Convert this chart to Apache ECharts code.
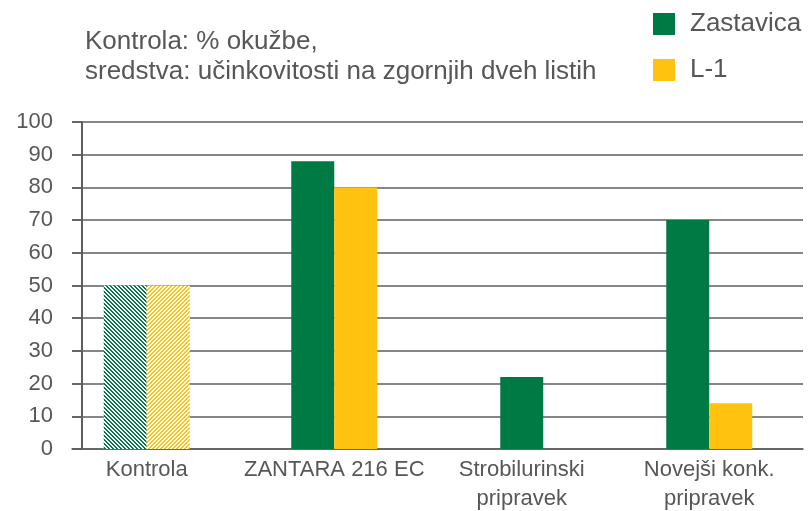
<!DOCTYPE html>
<html>
<head>
<meta charset="utf-8">
<script src="https://cdn.jsdelivr.net/npm/echarts@6/dist/echarts.min.js"></script>
<style>
  html, body { margin: 0; padding: 0; background: #fff; }
  #myCharts { width: 808px; height: 511px; }
</style>
</head>
<body>
<div id="myCharts"></div>
<script>
let categories = ["Kontrola", "ZANTARA 216 EC", "Strobilurinski\npripravek", "Novejši konk.\npripravek"];
let zastavica = [50, 88, 22, 70];
let l1 = [50, 80, null, 14];
let yTicks = [0, 10, 20, 30, 40, 50, 60, 70, 80, 90, 100];
let controlIndex = 0; // kontrola: % okužbe, drawn hatched

const GREEN = "#007a45";
const YELLOW = "#ffc20e";
const TEXT = "#575757";
const LINE = "#5e5e5e";
const FONT = "Liberation Sans";

// diagonal stripe tile, dir 1 = "\" , dir -1 = "/"
function stripes(color, dir) {
  const p = 4;
  const c = document.createElement("canvas");
  c.width = p;
  c.height = p;
  const ctx = c.getContext("2d");
  ctx.fillStyle = "#fff";
  ctx.fillRect(0, 0, p, p);
  ctx.fillStyle = color;
  for (let x = 0; x < p; x++) {
    for (let y = 0; y < p; y++) {
      let k = dir > 0 ? x - y : x + y;
      if (((k % p) + p) % p < 2) ctx.fillRect(x, y, 1, 1);
    }
  }
  return { image: c, repeat: "repeat" };
}

// bars where both varieties have a value sit in pairs, a lone bar is centred
function paired(values, color, dir) {
  return values.map((v, i) => {
    if (l1[i] == null) return "-";
    if (i === controlIndex) return { value: v, itemStyle: { color: stripes(color, dir) } };
    return v;
  });
}
let lone = zastavica.map((v, i) => (l1[i] == null ? v : "-"));

let option = {
  animation: false,
  textStyle: { fontFamily: FONT },
  title: {
    text: "Kontrola: % okužbe,\nsredstva: učinkovitosti na zgornjih dveh listih",
    left: 80,
    top: 22,
    textStyle: { fontSize: 26, lineHeight: 30, fontWeight: "normal", color: TEXT, fontFamily: FONT },
  },
  legend: {
    orient: "vertical",
    left: 653,
    top: 11,
    padding: 0,
    itemWidth: 22,
    itemHeight: 22,
    itemGap: 20,
    icon: "rect",
    data: ["Zastavica", "L-1"],
    textStyle: { fontSize: 26, color: TEXT, padding: [0, 0, 0, 10], fontFamily: FONT },
  },
  grid: [
    { left: 72, right: 5, top: 122, bottom: 62, outerBoundsMode: "none" },
    { left: 53, right: 5, top: 122, bottom: 62, outerBoundsMode: "none" },
  ],
  xAxis: [
    {
      gridIndex: 0,
      type: "category",
      data: categories,
      axisLine: { show: true, lineStyle: { color: LINE, width: 1.5 } },
      axisTick: { show: false },
      axisLabel: { show: false },
    },
    {
      gridIndex: 1,
      type: "category",
      data: categories,
      axisLine: { show: false },
      axisTick: { show: false },
      axisLabel: { interval: 0, color: TEXT, fontSize: 22, lineHeight: 29, margin: 6, fontFamily: FONT },
    },
    {
      gridIndex: 1,
      type: "category",
      data: categories,
      show: false,
    },
  ],
  yAxis: [
    {
      gridIndex: 0,
      type: "value",
      min: yTicks[0],
      max: yTicks[yTicks.length - 1],
      interval: 10,
      offset: -10,
      axisLine: { show: true, lineStyle: { color: LINE, width: 2 } },
      axisTick: { show: true, length: 10, lineStyle: { color: LINE, width: 1.5 } },
      axisLabel: { color: TEXT, fontSize: 22, margin: 29, fontFamily: FONT },
      splitLine: { show: true, lineStyle: { color: LINE, width: 1.5 } },
    },
    {
      gridIndex: 1,
      type: "value",
      min: yTicks[0],
      max: yTicks[yTicks.length - 1],
      interval: 10,
      show: false,
      splitLine: { show: false },
    },
  ],
  series: [
    {
      name: "Zastavica",
      type: "bar",
      xAxisIndex: 1,
      yAxisIndex: 1,
      barWidth: 43,
      barGap: "0%",
      itemStyle: { color: GREEN },
      data: paired(zastavica, GREEN, 1),
    },
    {
      name: "L-1",
      type: "bar",
      xAxisIndex: 1,
      yAxisIndex: 1,
      barWidth: 43,
      barGap: "0%",
      itemStyle: { color: YELLOW },
      data: paired(l1, YELLOW, -1),
    },
    {
      name: "Zastavica",
      type: "bar",
      xAxisIndex: 2,
      yAxisIndex: 1,
      barWidth: 43,
      itemStyle: { color: GREEN },
      data: lone,
    },
  ],
};

let myChart = echarts.init(document.getElementById("myCharts"));
myChart.setOption(option);
</script>
</body>
</html>
